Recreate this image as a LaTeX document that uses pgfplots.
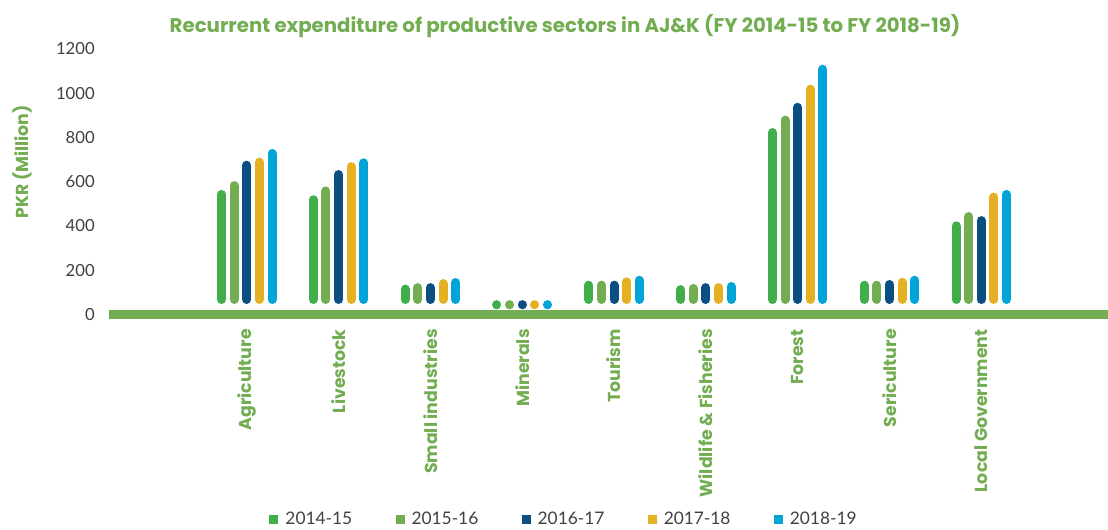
\documentclass[border=0pt]{standalone}
\usepackage{fontspec}
\setmainfont{Lato}
\newfontfamily\popb{Poppins}
\usepackage{pgfplots}
\usepackage{pgfplotstable}
\pgfplotsset{compat=1.18}
\definecolor{c1}{RGB}{65,174,73}
\definecolor{c2}{RGB}{114,173,81}
\definecolor{c3}{RGB}{10,78,130}
\definecolor{c4}{RGB}{229,176,33}
\definecolor{c5}{RGB}{0,164,214}
\definecolor{tgray}{RGB}{64,64,64}
\pgfplotstableread{
id a b c d e
1 563 603 695 709 748
2 539 579 653 689 706
3 135 142 142 160 165
4 65 65 65 65 65
5 153 153 153 168 175
6 133 138 142 142 147
7 843 899 957 1039 1129
8 153 153 156 166 175
9 421 463 445 551 563
}\data
\pgfplotsset{
  barstyle/.style n args={2}{draw=none, mark=none,
    legend image code/.code={\fill[#1] (0pt,-3.375pt) rectangle (6.75pt,3.375pt); \path (10.5pt,0pt);},
    error bars/.cd, y dir=minus, y explicit, error mark=none,
    error bar style={draw=#1, line width=6.75pt, line cap=round, yshift=-3.375pt}},
}
\begin{document}
\begin{tikzpicture}
\begin{axis}[name=ax, scale only axis, width=749.25pt, height=199.125pt,
  xmin=-1.5, xmax=9.38, ymin=0, ymax=1200, clip=false,
  axis x line=bottom, axis y line=left,
  x axis line style={line width=6.75pt, draw=c2, -},
  y axis line style={draw=none},
  major tick length=0pt,
  ytick={0,200,...,1200},
  /pgf/number format/1000 sep={},
  /pgf/number format/assume math mode=true,
  yticklabel style={font=\fontsize{12.5}{14}\selectfont, text=tgray, anchor=east, inner sep=0pt, xshift=-10.5pt},
  xtick={0,...,8},
  xticklabels={Agriculture, Livestock, Small industries, Minerals, Tourism, Wildlife \& Fisheries, Forest, Sericulture, Local Government},
  xticklabel shift=10.9pt,
  xticklabel style={rotate=90, anchor=east, font=\popb\bfseries\fontsize{13}{15}\selectfont, text=c2, inner sep=0pt},
  every axis y label/.style={at={(axis description cs:-0.0871,0.5744)}, rotate=90, anchor=center, font=\popb\bfseries\fontsize{13}{15}\selectfont, text=c2},
  ylabel={PKR (Million)},
  legend style={at={(axis description cs:0.4555,-0.772)}, anchor=center, draw=none, fill=none,
    legend columns=5, font=\fontsize{13}{15}\selectfont, text=tgray, inner sep=0pt,
    nodes={inner sep=1.5pt},
    /tikz/every even column/.append style={column sep=31pt}},
]
\addplot[barstyle={c1}{}] table[x expr=\coordindex-0.2754, y=a, y error minus expr={max(\thisrow{a}-88.1,1)}] {\data};
\addlegendentry{2014-15}
\addplot[barstyle={c2}{}] table[x expr=\coordindex-0.1377, y=b, y error minus expr={max(\thisrow{b}-88.1,1)}] {\data};
\addlegendentry{2015-16}
\addplot[barstyle={c3}{}] table[x expr=\coordindex, y=c, y error minus expr={max(\thisrow{c}-88.1,1)}] {\data};
\addlegendentry{2016-17}
\addplot[barstyle={c4}{}] table[x expr=\coordindex+0.1377, y=d, y error minus expr={max(\thisrow{d}-88.1,1)}] {\data};
\addlegendentry{2017-18}
\addplot[barstyle={c5}{}] table[x expr=\coordindex+0.2754, y=e, y error minus expr={max(\thisrow{e}-88.1,1)}] {\data};
\addlegendentry{2018-19}
\node[font=\popb\bfseries\fontsize{14.8}{17}\selectfont, text=c2] at (axis description cs:0.4565,1.0866) {Recurrent expenditure of productive sectors in AJ\&K (FY 2014-15 to FY 2018-19)};
\end{axis}
\pgfresetboundingbox
\path[use as bounding box] ([shift={(-81.75pt,-160.875pt)}]ax.south west) rectangle ([shift={(0pt,36.75pt)}]ax.north east);
\end{tikzpicture}
\end{document}
